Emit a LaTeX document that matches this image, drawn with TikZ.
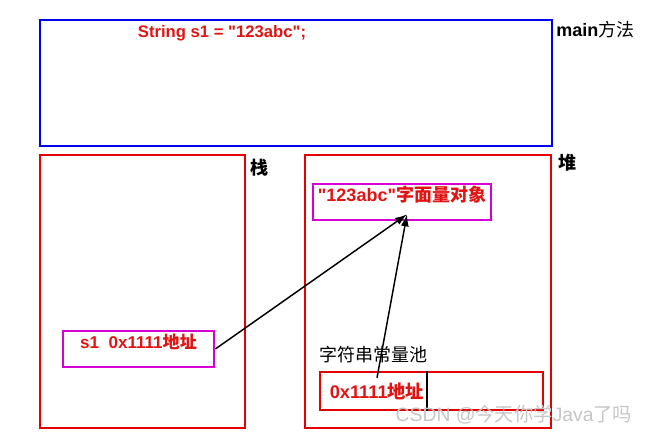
\documentclass[tikz,border=0pt]{standalone}
\usepackage{fontspec}
\setmainfont{Liberation Sans}
\newfontfamily\cjk{Noto Sans CJK SC}
\newfontfamily\plainq{Liberation Sans}
\usetikzlibrary{fit,arrows,arrows.meta,positioning,calc}
\definecolor{areared}{RGB}{228,0,0}
\definecolor{varmag}{RGB}{214,0,214}
\definecolor{txtred}{RGB}{225,20,20}
\definecolor{mainblue}{RGB}{0,0,235}
\newcommand{\qt}{{\plainq\symbol{34}}}

\begin{document}
\begin{tikzpicture}[x=0.75pt,y=-0.75pt,
		area/.style={draw=areared, line width=2pt, inner sep=0pt},
		var/.style={draw=varmag, line width=2pt, inner sep=0pt, text=txtred, font=\bfseries\fontsize{13.5}{15}\selectfont},
		lbl/.style={font=\fontsize{13.5}{15}\selectfont, anchor=west, inner sep=0pt},
		ref/.style={-{Latex[length=9pt,width=6pt]}, line width=1.1pt}]
		\useasboundingbox (0,0) rectangle (648,437);
		\node[fit={(40,20) (552,146)}, draw=mainblue, line width=2pt, inner sep=0pt] (main) {};
		\node[text=txtred, font=\bfseries\fontsize{12.5}{14}\selectfont] (code) at (222,33) {String s1 = \qt 123abc\qt;};
		\node[lbl] (mainlbl) at (556,30) {\textbf{main}{\cjk 方法}};
		\node[fit={(40,155) (245,428)}, area] (stack) {};
		\node[lbl] (stacklbl) at (250,168) {\cjk\bfseries 栈};
		\node[fit={(305,155) (551,428)}, area] (heap) {};
		\node[lbl] (heaplbl) at (558,163) {\cjk\bfseries 堆};
		\node[fit={(313,184) (491,220)}, var] (lit) {\qt 123abc\qt{\cjk 字面量对象}};
		\node[fit={(63,331) (214,367)}, var, font=\bfseries\fontsize{12.8}{14}\selectfont] (s1) {s1\ \ 0x1111{\cjk 地址}};
		\node[lbl] (poollbl) at (319,355) {\cjk 字符串常量池};
		\node[fit={(320,372) (543,410)}, area] (pool) {};
		\draw[line width=1.5pt] ($(pool.north west)+(108,0)$) -- ($(pool.south west)+(108,0)$);
		\node[text=txtred, font=\bfseries\fontsize{13.7}{15}\selectfont] (addr) at (377,391) {0x1111{\cjk 地址}};
		\coordinate (tip) at ($(lit.south)+(5,-7)$);
		\draw[ref] (s1.east) -- (tip);
		\draw[ref] (addr.north) -- (tip);
		\node[text=gray!45, font=\fontsize{14.5}{16}\selectfont] (mark) at (514,415) {CSDN @{\cjk 今天你学}Java{\cjk 了吗}};
	\end{tikzpicture}
\end{document}
